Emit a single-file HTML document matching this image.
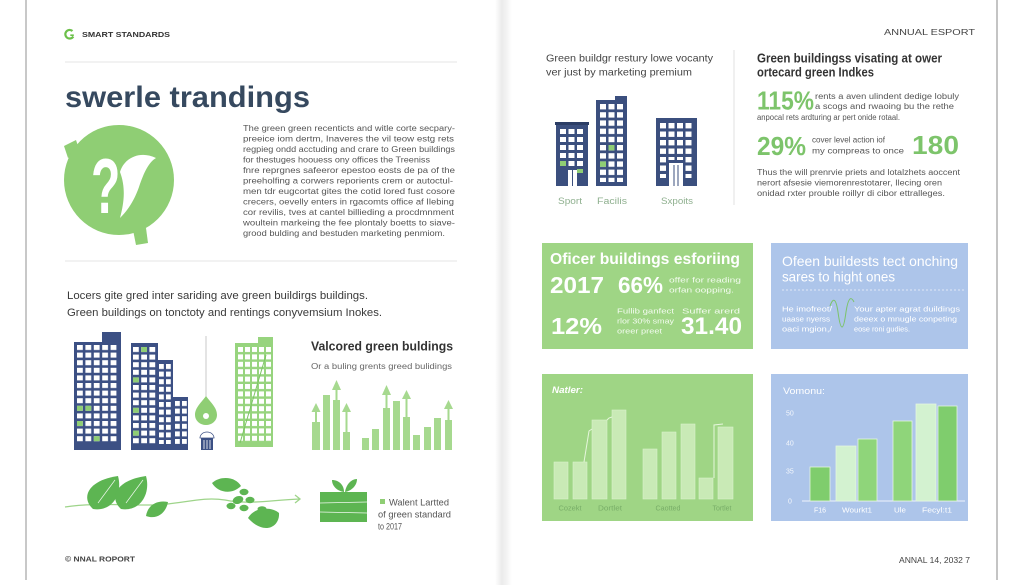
<!DOCTYPE html>
<html><head><meta charset="utf-8"><style>
html,body{margin:0;padding:0;background:#fff;}
svg{display:block;}
text{font-family:"Liberation Sans",sans-serif;}
</style></head><body>
<svg width="1024" height="585" viewBox="0 0 1024 585" xmlns="http://www.w3.org/2000/svg">
<defs>
 <linearGradient id="gut" x1="0" x2="1" y1="0" y2="0">
  <stop offset="0" stop-color="#ffffff"/>
  <stop offset="0.4" stop-color="#ebebeb"/>
  <stop offset="0.65" stop-color="#f2f2f2"/>
  <stop offset="1" stop-color="#ffffff"/>
 </linearGradient>
 <pattern id="p1" patternUnits="userSpaceOnUse" x="77" y="345" width="8.4" height="7.6"><rect width="5.8" height="5" fill="#fff"/></pattern>
 <pattern id="p2" patternUnits="userSpaceOnUse" x="133" y="347" width="8.2" height="7.6"><rect width="5.8" height="5" fill="#fff"/></pattern>
 <pattern id="p3" patternUnits="userSpaceOnUse" x="159" y="364" width="7" height="7.6"><rect width="4.8" height="5" fill="#fff"/></pattern>
 <pattern id="p4" patternUnits="userSpaceOnUse" x="175" y="401" width="7" height="7.6"><rect width="4.8" height="5" fill="#fff"/></pattern>
 <pattern id="pg" patternUnits="userSpaceOnUse" x="238" y="347" width="7" height="7.4"><rect width="5" height="5" fill="#fff"/></pattern>
 <pattern id="pA" patternUnits="userSpaceOnUse" x="560" y="129" width="8.5" height="8"><rect width="6" height="5" fill="#fff"/></pattern>
 <pattern id="pB" patternUnits="userSpaceOnUse" x="600" y="104" width="8.5" height="8.2"><rect width="6" height="5.4" fill="#fff"/></pattern>
 <pattern id="pC" patternUnits="userSpaceOnUse" x="660" y="123" width="8.5" height="8.5"><rect width="6" height="5.4" fill="#fff"/></pattern>
</defs>

<rect width="1024" height="585" fill="#ffffff"/>
<!-- page edges -->
<rect x="25" y="0" width="2" height="580" fill="#c8c8c8"/>
<rect x="996" y="0" width="2" height="580" fill="#c4c4c4"/>
<rect x="495" y="0" width="17" height="585" fill="url(#gut)"/>

<!-- ================= LEFT PAGE ================= -->
<path d="M72.5,31 A4.3,4.3 0 1 0 73.3,36.5" stroke="#6cc04a" stroke-width="2.2" fill="none"/>
<line x1="70.3" y1="35.2" x2="73.8" y2="35.2" stroke="#6cc04a" stroke-width="1.6"/>
<text x="82" y="36.8" font-size="7.5" font-weight="bold" fill="#333" textLength="88" lengthAdjust="spacingAndGlyphs">SMART STANDARDS</text>
<line x1="65" y1="62" x2="457" y2="62" stroke="#e4e4e4" stroke-width="1"/>

<text x="65" y="107" font-size="30" font-weight="bold" fill="#36495f" textLength="245" lengthAdjust="spacingAndGlyphs">swerle trandings</text>

<!-- question circle -->
<polygon points="64,146 76,140 80,152 68,158" fill="#8fce74"/>
<polygon points="133,230 146,228 148,243 136,245" fill="#8fce74"/>
<circle cx="119" cy="180" r="55" fill="#8fce74"/>
<text transform="translate(91,213) scale(0.8,1.3)" font-size="60" font-weight="bold" fill="#fff">?</text>
<path d="M120,172 C124,158 140,150 156,158 C149,162 144,172 139,187 C134,201 128,210 120,218 C124,203 126,188 120,172 Z" fill="#fff"/>

<!-- paragraph -->
<g font-size="8" fill="#555">
<text x="243" y="130.8" textLength="212" lengthAdjust="spacingAndGlyphs">The green green recenticts and witle corte secpary-</text>
<text x="243" y="141.3" textLength="211" lengthAdjust="spacingAndGlyphs">preeice iom dertm, Inaveres the vil teow estg rets</text>
<text x="243" y="151.8" textLength="212" lengthAdjust="spacingAndGlyphs">regpieg ondd acctuding and crare to Green buildings</text>
<text x="243" y="162.3" textLength="187" lengthAdjust="spacingAndGlyphs">for thestuges hoouess ony offices the Treeniss</text>
<text x="243" y="172.8" textLength="212" lengthAdjust="spacingAndGlyphs">fnre reprgnes safeeror epestoo eosts de pa of the</text>
<text x="243" y="183.3" textLength="210" lengthAdjust="spacingAndGlyphs">preeholfing a corwers reporients crem or autoctul-</text>
<text x="243" y="193.8" textLength="212" lengthAdjust="spacingAndGlyphs">men tdr eugcortat gites the cotid lored fust cosore</text>
<text x="243" y="204.3" textLength="211" lengthAdjust="spacingAndGlyphs">crecers, oevelly enters in rgacomts office af Ilebing</text>
<text x="243" y="214.8" textLength="211" lengthAdjust="spacingAndGlyphs">cor revilis, tves at cantel billieding a procdmnment</text>
<text x="243" y="225.3" textLength="212" lengthAdjust="spacingAndGlyphs">woultein markeing the fee plontaly boetts to siave-</text>
<text x="243" y="235.8" textLength="202" lengthAdjust="spacingAndGlyphs">grood bulding and bestuden marketing penmiom.</text>
</g>
<line x1="65" y1="261" x2="457" y2="261" stroke="#e4e4e4" stroke-width="1"/>

<text x="67" y="299" font-size="11" fill="#3a3a3a" textLength="301" lengthAdjust="spacingAndGlyphs">Locers gite gred inter sariding ave green buildirgs buildings.</text>
<text x="67" y="316" font-size="11" fill="#3a3a3a" textLength="315" lengthAdjust="spacingAndGlyphs">Green buildings on tonctoty and rentings conyvemsium Inokes.</text>

<!-- left buildings -->
<rect x="74" y="342" width="47" height="108" fill="#3c5084"/>
<rect x="102" y="332" width="19" height="12" fill="#3c5084"/>
<rect x="77" y="345" width="41" height="98" fill="url(#p1)"/>
<g fill="#8fce74">
<rect x="77" y="405.8" width="5.8" height="5"/><rect x="85.4" y="405.8" width="5.8" height="5"/>
<rect x="77" y="421" width="5.8" height="5"/><rect x="93.8" y="436.2" width="5.8" height="5"/>
</g>
<rect x="131" y="343" width="27" height="107" fill="#3c5084"/>
<rect x="157" y="360" width="16" height="90" fill="#3c5084"/>
<rect x="172" y="397" width="16" height="53" fill="#3c5084"/>
<rect x="133" y="347" width="23" height="97" fill="url(#p2)"/>
<rect x="159" y="364" width="12" height="80" fill="url(#p3)"/>
<rect x="175" y="401" width="12" height="43" fill="url(#p4)"/>
<g fill="#8fce74">
<rect x="141.2" y="347" width="5.8" height="5"/><rect x="133" y="377.4" width="5.8" height="5"/>
<rect x="133" y="407.8" width="5.8" height="5"/><rect x="133" y="430.6" width="5.8" height="5"/>
</g>
<line x1="206" y1="336" x2="206" y2="398" stroke="#c8c8c8" stroke-width="1"/>
<path d="M206,396 C200,404 195,408 195,415 A11,10 0 0 0 217,415 C217,408 212,404 206,396 Z" fill="#8fce74"/>
<circle cx="206" cy="416" r="3" fill="#fff"/>
<path d="M200,438 A7,6 0 0 1 214,438 Z" fill="#fff" stroke="#3c5084" stroke-width="0.8"/>
<rect x="201" y="438" width="12" height="12" fill="#3c5084"/>
<line x1="204" y1="440" x2="204" y2="449" stroke="#fff" stroke-width="0.8"/>
<line x1="207" y1="440" x2="207" y2="449" stroke="#fff" stroke-width="0.8"/>
<line x1="210" y1="440" x2="210" y2="449" stroke="#fff" stroke-width="0.8"/>
<rect x="235" y="343" width="38" height="104" fill="#97d47e"/>
<rect x="258" y="337" width="15" height="8" fill="#97d47e"/>
<rect x="238" y="347" width="33" height="95" fill="url(#pg)"/>
<line x1="240" y1="443" x2="266" y2="355" stroke="#7cc464" stroke-width="1"/>

<text x="311" y="350.5" font-size="13" font-weight="bold" fill="#333" textLength="142" lengthAdjust="spacingAndGlyphs">Valcored green buldings</text>
<text x="311" y="369" font-size="8" fill="#666" textLength="141" lengthAdjust="spacingAndGlyphs">Or a buling grents greed bulidings</text>

<!-- small bar chart -->
<g fill="#a6d98f">
<rect x="312" y="422" width="8" height="28"/>
<rect x="323" y="395" width="7" height="55"/>
<rect x="333" y="400" width="7" height="50"/>
<rect x="343" y="432" width="7" height="18"/>
<rect x="362" y="438" width="7" height="12"/>
<rect x="372" y="429" width="7" height="21"/>
<rect x="383" y="408" width="7" height="42"/>
<rect x="393" y="401" width="7" height="49"/>
<rect x="403" y="417" width="7" height="33"/>
<rect x="413" y="435" width="7" height="15"/>
<rect x="424" y="427" width="7" height="23"/>
<rect x="434" y="418" width="7" height="32"/>
<rect x="445" y="420" width="7" height="30"/>
<polygon points="316,403 311.5,412 320.5,412"/><rect x="315" y="411" width="2" height="11"/>
<polygon points="336.5,380 332,390 341,390"/><rect x="335.5" y="389" width="2" height="11"/>
<polygon points="346.5,403 342,412 351,412"/><rect x="345.5" y="411" width="2" height="21"/>
<polygon points="386.5,385 382,395 391,395"/><rect x="385.5" y="394" width="2" height="14"/>
<polygon points="406.5,390 402,399 411,399"/><rect x="405.5" y="398" width="2" height="19"/>
<polygon points="448.5,400 444,409 453,409"/><rect x="447.5" y="408" width="2" height="12"/>
</g>

<!-- leaves / vine -->
<path d="M65,507 C90,503 120,505 150,505 C180,505 200,496 225,500 C250,505 270,500 300,499" stroke="#9ed48a" stroke-width="1.3" fill="none"/>
<polyline points="295,495 300,499 295,503" stroke="#9ed48a" stroke-width="1.3" fill="none"/>
<g fill="#5db552">
<path d="M93,509 C80,497 89,480 118,476 C123,494 112,512 93,509 Z"/>
<path d="M121,509 C108,497 117,480 146,476 C151,494 140,512 121,509 Z"/>
<path d="M146,516 C148,504 158,500 168,502 C166,513 157,520 146,516 Z"/>
<path d="M212,483 C221,475 236,477 241,486 C232,495 218,493 212,483 Z"/>
<ellipse cx="244" cy="492" rx="4.5" ry="3.2"/>
<ellipse cx="238" cy="500" rx="5.5" ry="3.8" transform="rotate(-20 238 500)"/>
<ellipse cx="250" cy="500" rx="4.5" ry="3.2"/>
<ellipse cx="231" cy="506" rx="4.5" ry="3.2"/>
<ellipse cx="244" cy="508" rx="4.5" ry="3.2"/>
<ellipse cx="262" cy="509" rx="4.5" ry="2.8"/>
<path d="M248,518 C255,506 272,507 279,513 C280,527 264,536 248,518 Z"/>
<rect x="320" y="492" width="47" height="30"/>
<path d="M344,492 C337,491 332,486 332,480 C339,480 344,485 344,492 Z"/>
<path d="M345,492 C346,485 351,479 357,479 C357,486 351,491 345,492 Z"/>
<rect x="380" y="499" width="5" height="5" fill="#8fce74"/>
</g>
<g stroke="#fff" stroke-width="0.7" fill="none" opacity="0.9">
<line x1="98" y1="503" x2="115" y2="480"/><line x1="126" y1="503" x2="143" y2="480"/>
<line x1="320" y1="503" x2="367" y2="502"/><line x1="320" y1="512" x2="367" y2="513"/>
</g>
<text x="389" y="505.5" font-size="9" fill="#555" textLength="60" lengthAdjust="spacingAndGlyphs">Walent Lartted</text>
<text x="378" y="517.5" font-size="9" fill="#555" textLength="73" lengthAdjust="spacingAndGlyphs">of green standard</text>
<text x="378" y="529.5" font-size="9" fill="#555" textLength="24" lengthAdjust="spacingAndGlyphs">to 2017</text>

<text x="65" y="561.5" font-size="7.5" font-weight="bold" fill="#444" textLength="70" lengthAdjust="spacingAndGlyphs">© NNAL ROPORT</text>

<!-- ================= RIGHT PAGE ================= -->
<text x="884" y="35" font-size="8" fill="#444" textLength="91" lengthAdjust="spacingAndGlyphs">ANNUAL ESPORT</text>

<text x="546" y="61.5" font-size="10.5" fill="#444" textLength="167" lengthAdjust="spacingAndGlyphs">Green buildgr restury lowe vocanty</text>
<text x="546" y="75.5" font-size="10.5" fill="#444" textLength="146" lengthAdjust="spacingAndGlyphs">ver just by marketing premium</text>
<line x1="734" y1="50" x2="734" y2="205" stroke="#e2e2e2" stroke-width="1"/>

<!-- right buildings -->
<rect x="556" y="124" width="32" height="62" fill="#3b4f7e"/>
<rect x="555" y="122" width="34" height="3" fill="#2c3e66"/>
<rect x="560" y="129" width="23" height="38" fill="url(#pA)"/>
<rect x="568" y="170" width="9" height="16" fill="#fff"/>
<line x1="572.5" y1="170" x2="572.5" y2="186" stroke="#3b4f7e" stroke-width="1"/>
<rect x="560" y="161" width="6" height="5" fill="#8fce74"/>
<rect x="577" y="169" width="6" height="4" fill="#8fce74"/>
<rect x="596" y="100" width="31" height="86" fill="#3b4f7e"/>
<rect x="615" y="96" width="12" height="6" fill="#3b4f7e"/>
<rect x="600" y="104" width="23" height="78" fill="url(#pB)"/>
<rect x="608.5" y="145" width="6" height="5.4" fill="#8fce74"/>
<rect x="600" y="161.4" width="6" height="5.4" fill="#8fce74"/>
<rect x="656" y="118" width="41" height="68" fill="#3b4f7e"/>
<rect x="660" y="123" width="32" height="55" fill="url(#pC)"/>
<rect x="668" y="160" width="16" height="26" fill="#3b4f7e"/>
<rect x="669" y="163" width="14" height="23" fill="#fff"/>
<line x1="674" y1="165" x2="674" y2="186" stroke="#3b4f7e" stroke-width="1"/>
<line x1="678" y1="165" x2="678" y2="186" stroke="#3b4f7e" stroke-width="1"/>
<text x="558" y="204" font-size="9" fill="#8fb08f" textLength="24" lengthAdjust="spacingAndGlyphs">Sport</text>
<text x="597" y="204" font-size="9" fill="#8fb08f" textLength="30" lengthAdjust="spacingAndGlyphs">Facilis</text>
<text x="661" y="204" font-size="9" fill="#8fb08f" textLength="32" lengthAdjust="spacingAndGlyphs">Sxpoits</text>

<!-- right column -->
<text x="757" y="62.5" font-size="12.5" font-weight="bold" fill="#333" textLength="185" lengthAdjust="spacingAndGlyphs">Green buildingss visating at ower</text>
<text x="757" y="76.5" font-size="12.5" font-weight="bold" fill="#333" textLength="117" lengthAdjust="spacingAndGlyphs">ortecard green Indkes</text>
<text x="757" y="109.3" font-size="26" font-weight="bold" fill="#7dc46b" textLength="57" lengthAdjust="spacingAndGlyphs">115%</text>
<text x="815" y="98.8" font-size="8" fill="#555" textLength="144" lengthAdjust="spacingAndGlyphs">rents a aven ulindent dedige lobuly</text>
<text x="815" y="109" font-size="8" fill="#555" textLength="139" lengthAdjust="spacingAndGlyphs">a scogs and rwaoing bu the rethe</text>
<text x="757" y="120" font-size="8" fill="#555" textLength="143" lengthAdjust="spacingAndGlyphs">anpocal rets ardturing ar pert onide rotaal.</text>
<text x="757" y="155" font-size="26" font-weight="bold" fill="#7dc46b" textLength="49" lengthAdjust="spacingAndGlyphs">29%</text>
<text x="812" y="142.5" font-size="8" fill="#555" textLength="73" lengthAdjust="spacingAndGlyphs">cover level action iof</text>
<text x="812" y="153.5" font-size="8" fill="#555" textLength="92" lengthAdjust="spacingAndGlyphs">my compreas to once</text>
<text x="912" y="154" font-size="26" font-weight="bold" fill="#7dc46b" textLength="47" lengthAdjust="spacingAndGlyphs">180</text>
<text x="757" y="175" font-size="8" fill="#555" textLength="203" lengthAdjust="spacingAndGlyphs">Thus the will prenrvie priets and lotalzhets aoccent</text>
<text x="757" y="185.5" font-size="8" fill="#555" textLength="185" lengthAdjust="spacingAndGlyphs">nerort afsesie viemorenrestotarer, Ilecing oren</text>
<text x="757" y="196" font-size="8" fill="#555" textLength="188" lengthAdjust="spacingAndGlyphs">onidad rxter prouble roillyr di cibor ettralleges.</text>

<!-- green box 1 -->
<rect x="542" y="243" width="211" height="106" fill="#9fd585"/>
<g fill="#fff">
<text x="550" y="264" font-size="16" font-weight="bold" textLength="190" lengthAdjust="spacingAndGlyphs">Oficer buildings esforiing</text>
<text x="550" y="293" font-size="23" font-weight="bold" textLength="54" lengthAdjust="spacingAndGlyphs">2017</text>
<text x="618" y="293" font-size="23" font-weight="bold" textLength="45" lengthAdjust="spacingAndGlyphs">66%</text>
<text x="551" y="334" font-size="23" font-weight="bold" textLength="51" lengthAdjust="spacingAndGlyphs">12%</text>
<text x="681" y="334" font-size="24" font-weight="bold" textLength="61" lengthAdjust="spacingAndGlyphs">31.40</text>
</g>
<g fill="#f2fbee" font-size="7.5">
<text x="669" y="282.5" textLength="72" lengthAdjust="spacingAndGlyphs">offer for reading</text>
<text x="669" y="292.5" textLength="65" lengthAdjust="spacingAndGlyphs">orfan oopping.</text>
<text x="617" y="313.5" textLength="57" lengthAdjust="spacingAndGlyphs">Fullib ganfect</text>
<text x="617" y="323.5" textLength="57" lengthAdjust="spacingAndGlyphs">rlor 30% smay</text>
<text x="617" y="333.5" textLength="45" lengthAdjust="spacingAndGlyphs">oreer preet</text>
<text x="682" y="313.5" textLength="58" lengthAdjust="spacingAndGlyphs">Suffer arerd</text>
</g>

<!-- blue box 1 -->
<rect x="771" y="243" width="197" height="106" fill="#adc5ea"/>
<text x="782" y="266" font-size="14" fill="#fff" textLength="176" lengthAdjust="spacingAndGlyphs">Ofeen buildests tect onching</text>
<text x="782" y="281.5" font-size="14" fill="#fff" textLength="113" lengthAdjust="spacingAndGlyphs">sares to hight ones</text>
<line x1="782" y1="290" x2="966" y2="290" stroke="#eef3fb" stroke-width="0.8" stroke-dasharray="2 2"/>
<g fill="#fff" font-size="7">
<text x="782" y="311.5" textLength="50" lengthAdjust="spacingAndGlyphs">He imofreot/</text>
<text x="782" y="321.5" textLength="48" lengthAdjust="spacingAndGlyphs">uaase nyerss</text>
<text x="782" y="331.5" textLength="50" lengthAdjust="spacingAndGlyphs">oaci mgion,/</text>
<text x="854" y="311.5" textLength="106" lengthAdjust="spacingAndGlyphs">Your apter agrat duildings</text>
<text x="854" y="321.5" textLength="103" lengthAdjust="spacingAndGlyphs">deeex o mnugle conpeting</text>
<text x="854" y="331.5" textLength="56" lengthAdjust="spacingAndGlyphs">eose roni gudies.</text>
</g>
<path d="M830,306 Q835,292 838,312 Q842,342 846,312 Q849,292 854,302" stroke="#7cc36a" stroke-width="1" fill="none"/>

<!-- green box 2 -->
<rect x="542" y="374" width="211" height="147" fill="#9fd585"/>
<text x="552" y="393" font-size="9.5" font-style="italic" font-weight="bold" fill="#fff" textLength="31" lengthAdjust="spacingAndGlyphs">Natler:</text>
<g fill="#c9eab6" stroke="#d9f2cb" stroke-width="0.6">
<rect x="554" y="462" width="14" height="37"/>
<rect x="573" y="462" width="14" height="37"/>
<rect x="592" y="420" width="15" height="79"/>
<rect x="612" y="410" width="14" height="89"/>
<rect x="643" y="449" width="14" height="50"/>
<rect x="662" y="432" width="14" height="67"/>
<rect x="681" y="424" width="14" height="75"/>
<rect x="699" y="478" width="14" height="21"/>
<rect x="718" y="427" width="15" height="72"/>
</g>
<g stroke="#e6f6dc" stroke-width="1" fill="none">
<polyline points="584,462 589,431 592,429"/>
<polyline points="607,420 609,418 612,417"/>
<polyline points="714,478 714,425 723,424"/>
</g>
<g fill="#78ad68" font-size="7.5">
<text x="558.5" y="510.5" textLength="23" lengthAdjust="spacingAndGlyphs">Cozekt</text>
<text x="598" y="510.5" textLength="24" lengthAdjust="spacingAndGlyphs">Dortlet</text>
<text x="655.5" y="510.5" textLength="25" lengthAdjust="spacingAndGlyphs">Caotted</text>
<text x="712.5" y="510.5" textLength="19" lengthAdjust="spacingAndGlyphs">Tortlet</text>
</g>

<!-- blue box 2 -->
<rect x="771" y="374" width="197" height="147" fill="#adc5ea"/>
<text x="783" y="394" font-size="9.5" fill="#fff" textLength="42" lengthAdjust="spacingAndGlyphs">Vomonu:</text>
<g fill="#fff" font-size="7" opacity="0.85">
<text x="786" y="415.5">50</text>
<text x="786" y="445.5">40</text>
<text x="786" y="473.5">35</text>
<text x="788" y="503.5">0</text>
</g>
<line x1="802" y1="501" x2="965" y2="501" stroke="#eef4fc" stroke-width="1"/>
<g stroke="#e4f5e0" stroke-width="0.8">
<rect x="810" y="467" width="20" height="34" fill="#7fcd6d"/>
<rect x="836" y="446" width="20" height="55" fill="#d3f2d0"/>
<rect x="858" y="439" width="19" height="62" fill="#8fd57a"/>
<rect x="893" y="421" width="19" height="80" fill="#8fd57a"/>
<rect x="916" y="404" width="20" height="97" fill="#d3f2d0"/>
<rect x="938" y="406" width="19" height="95" fill="#7fcd6d"/>
</g>
<g fill="#fff" font-size="7">
<text x="814" y="512.5" textLength="12" lengthAdjust="spacingAndGlyphs">F16</text>
<text x="842" y="512.5" textLength="30" lengthAdjust="spacingAndGlyphs">Wourkt1</text>
<text x="894" y="512.5" textLength="12" lengthAdjust="spacingAndGlyphs">Ule</text>
<text x="922" y="512.5" textLength="30" lengthAdjust="spacingAndGlyphs">Fecyl:t1</text>
</g>

<text x="899" y="563" font-size="8" fill="#444" textLength="71" lengthAdjust="spacingAndGlyphs">ANNAL 14, 2032 7</text>
</svg>
</body></html>
